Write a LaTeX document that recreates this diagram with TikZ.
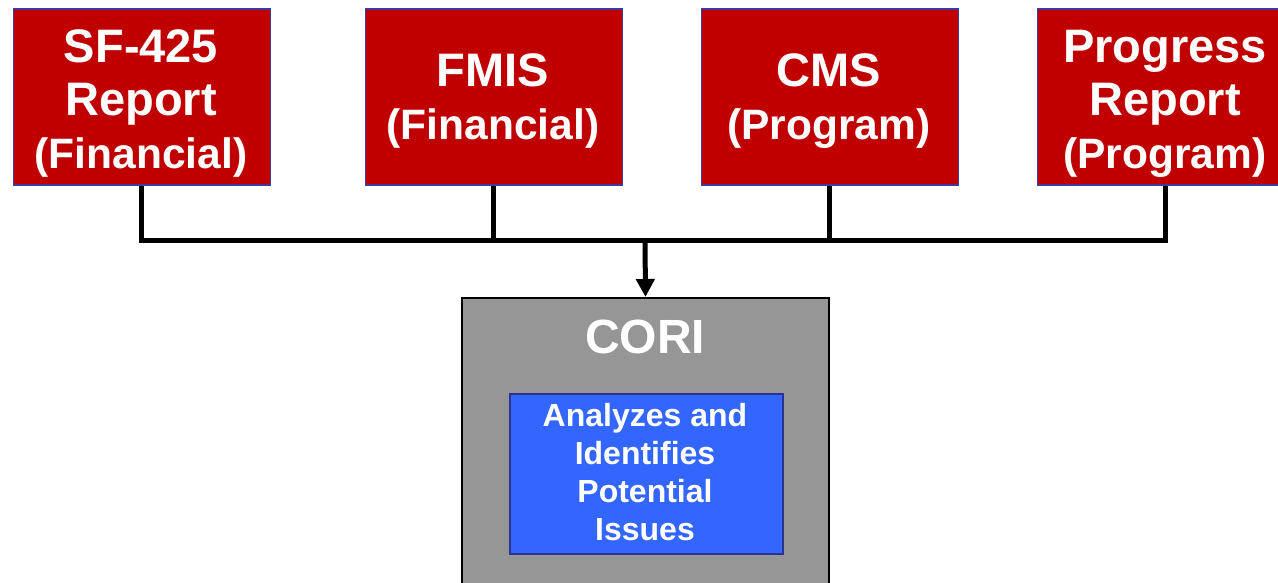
\documentclass[tikz,border=0pt]{standalone}
\usepackage{fontspec}
\setmainfont{Liberation Sans}
\usetikzlibrary{arrows.meta}
\definecolor{boxred}{HTML}{C00000}
\definecolor{boxedge}{HTML}{3C3CA0}
\definecolor{corigray}{HTML}{969696}
\definecolor{anablue}{HTML}{3366FF}
\definecolor{anaedge}{HTML}{2E3192}
\newcommand{\subln}[1]{{\fontsize{42.5}{53}\selectfont #1}}
\begin{document}
\begin{tikzpicture}[x=1pt,y=-1pt,
  srcbox/.style={draw=boxedge, line width=1.5pt, fill=boxred, minimum width=257pt, minimum height=176pt, inner sep=0pt, anchor=north west},
  srclbl/.style={text=white, font=\bfseries\fontsize{47}{53}\selectfont, align=center, anchor=base, inner sep=0pt},
  corbox/.style={draw=black, line width=2pt, fill=corigray, minimum width=367pt, minimum height=320pt, inner sep=0pt, anchor=north west},
  corlbl/.style={text=white, font=\bfseries\fontsize{48}{56}\selectfont, anchor=base, inner sep=0pt},
  anabox/.style={draw=anaedge, line width=2pt, fill=anablue, minimum width=273pt, minimum height=160pt, inner sep=0pt, anchor=north west},
  analbl/.style={text=white, font=\bfseries\fontsize{32}{38}\selectfont, align=center, anchor=base, inner sep=0pt},
  conn/.style={line width=5pt, line join=miter, draw=black}]
\useasboundingbox (0,0) rectangle (1278,583);
\node[srcbox] (b1) at (12.5,8.5) {};
\node[srcbox] (b2) at (364.5,8.5) {};
\node[srcbox] (b3) at (700.5,8.5) {};
\node[srcbox] (b4) at (1036.5,8.5) {};
\node[srclbl] (t1) at (141,168) {SF-425\\Report\\\subln{(Financial)}};
\node[srclbl] (t2) at (493,140) {FMIS\\\subln{(Financial)}};
\node[srclbl] (t3) at (829,140) {CMS\\\subln{(Program)}};
\node[srclbl] (t4) at (1165,168) {Progress\\Report\\\subln{(Program)}};
\node[corbox] (cori) at (461,297) {};
\node[corlbl] (ct) at (645,353) {CORI};
\node[anabox] (ana) at (508.5,392.5) {};
\node[analbl] (at) at (645,540) {Analyzes and\\Identifies\\Potential\\Issues};
\coordinate (bus) at (645,240);
\draw[conn] (b1.south) |- (bus) -| (b4.south);
\draw[conn] (b2.south) -- (b2.south |- bus);
\draw[conn] (b3.south) -- (b3.south |- bus);
\draw[conn, -{Triangle[length=18pt,width=18pt]}] (bus) -- (cori.north);
\end{tikzpicture}
\end{document}
